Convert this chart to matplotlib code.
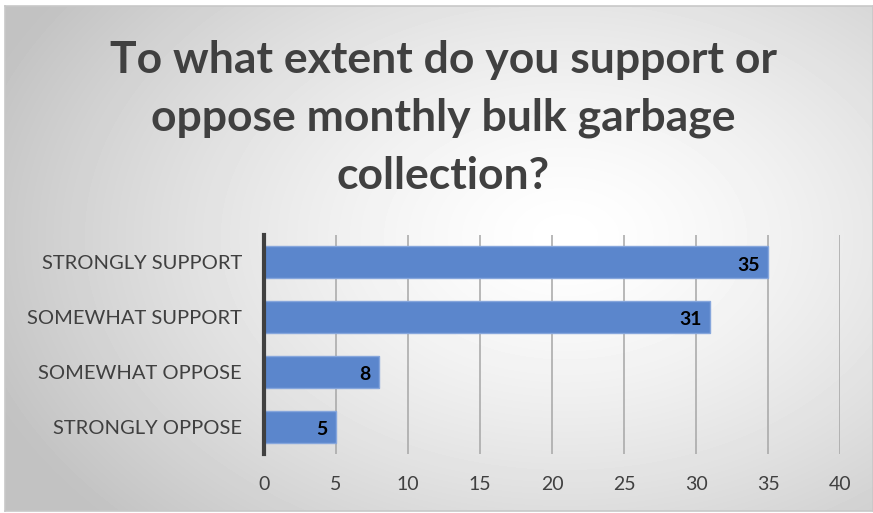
import matplotlib.pyplot as plt
import numpy as np

plt.rcParams['font.family'] = ['Lato', 'DejaVu Sans']

categories = ['STRONGLY SUPPORT', 'SOMEWHAT SUPPORT', 'SOMEWHAT OPPOSE', 'STRONGLY OPPOSE']
counts = [35, 31, 8, 5]
xticks = [0, 5, 10, 15, 20, 25, 30, 35, 40]
title = 'To what extent do you support or\noppose monthly bulk garbage\ncollection?'

W, H = 873, 513
fig = plt.figure(figsize=(W / 100, H / 100), dpi=100)
fig.patch.set_facecolor('white')

# panel with radial gradient background
bg = fig.add_axes([5 / W, 1 - 511 / H, 868 / W, 505 / H])
yy, xx = np.mgrid[0:505, 0:868]
cx, cy = 560, 230
r = np.sqrt(((xx - cx) / 620) ** 2 + ((yy - cy) / 420) ** 2)
shade = 1.0 - 0.24 * np.clip(r, 0, 1) ** 1.4
bg.imshow(shade, cmap='gray', vmin=0, vmax=1, aspect='auto', interpolation='bilinear')
bg.set_xticks([])
bg.set_yticks([])
for s in bg.spines.values():
    s.set_color('#c8c8c8')
    s.set_linewidth(1.2)

fig.text(0.508, 1 - 118 / H, title, ha='center', va='center', fontsize=32,
         fontweight='bold', color='#404040', linespacing=1.55)

ax = fig.add_axes([264 / W, 1 - 454 / H, (840 - 264) / W, (454 - 235) / H])
ax.patch.set_alpha(0)
y = np.arange(len(categories))
ax.barh(y, counts, height=0.58, color='#5b86cc', edgecolor='#86a6dc', linewidth=1, zorder=3)
ax.set_ylim(len(categories) - 0.5, -0.5)
ax.set_xlim(0, 40)
ax.set_xticks(xticks)
ax.set_yticks(y)
ax.set_yticklabels(categories, fontsize=14.5, color='#404040')
ax.tick_params(axis='x', labelsize=14, labelcolor='#404040', length=0, pad=16)
ax.tick_params(axis='y', length=0, pad=16)
ax.grid(axis='x', color='#a6a6a6', linewidth=1.1, zorder=0)
for s in ['top', 'right', 'bottom']:
    ax.spines[s].set_visible(False)
ax.spines['left'].set_color('#404040')
ax.spines['left'].set_linewidth(3)
ax.spines['left'].set_zorder(4)

for yi, v in zip(y, counts):
    ax.text(v - 0.6, yi + 0.05, str(v), ha='right', va='center', fontsize=14,
            fontweight='bold', color='black', zorder=5)

fig.savefig('out.png', dpi=100)
